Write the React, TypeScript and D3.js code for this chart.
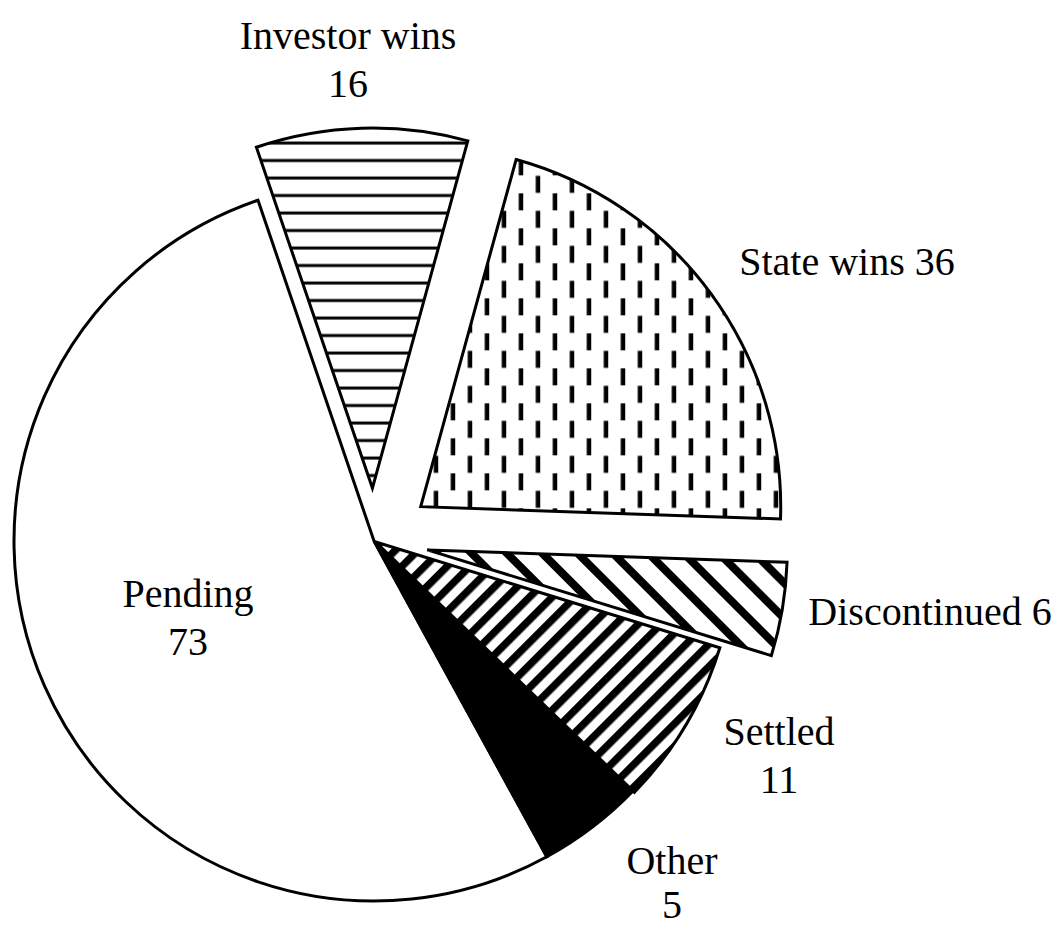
import * as d3 from "d3";

// data
const categories = ["Investor wins", "State wins", "Discontinued", "Settled", "Other", "Pending"];
const counts = [16, 36, 6, 11, 5, 73];
// share of the circle each slice occupies in the drawing (%)
const drawnShare = [9.5, 21.3, 4.2, 7.5, 4.8, 52.8];

const W = 1058,
  H = 927;
const cx = 374,
  cy = 541,
  R = 360;
const startDeg = -18.8;

// look of each slice: pattern fill + how far it is pulled out
const sliceStyle: Record<string, { fill: string; pull: number }> = {
  "Investor wins": { fill: "url(#hLines)", pull: 53 },
  "State wins": { fill: "url(#vDash)", pull: 58 },
  Discontinued: { fill: "url(#dnDiag)", pull: 54 },
  Settled: { fill: "url(#upDiag)", pull: 2 },
  Other: { fill: "#000", pull: 0 },
  Pending: { fill: "#fff", pull: 0 },
};

// label anchor relative to the pie centre; twoLines puts the count underneath
const labelLayout: Record<string, { dx: number; dy: number; twoLines: boolean; gap?: number }> = {
  "Investor wins": { dx: -26, dy: -492, twoLines: true },
  "State wins": { dx: 473, dy: -266, twoLines: false },
  Discontinued: { dx: 556, dy: 84, twoLines: false },
  Settled: { dx: 405, dy: 204, twoLines: true },
  Other: { dx: 298, dy: 333, twoLines: true, gap: 44 },
  Pending: { dx: -186, dy: 66, twoLines: true },
};

interface Slice {
  name: string;
  count: number;
  share: number;
}

const slices: Slice[] = categories.map((name, i) => ({
  name,
  count: counts[i],
  share: drawnShare[i],
}));

export default function App() {
  const rad = (d: number) => (d * Math.PI) / 180;

  const pie = d3
    .pie<Slice>()
    .sort(null)
    .value((d) => d.share)
    .startAngle(rad(startDeg))
    .endAngle(rad(startDeg + 360));

  const arc = d3.arc<d3.PieArcDatum<Slice>>().innerRadius(0).outerRadius(R);

  const arcs = pie(slices);
  // Excel paints later slices on top; draw the big one first
  const drawOrder = [...arcs].reverse();

  const font = "'Liberation Serif', 'Times New Roman', serif";

  return (
    <svg
      width={W}
      height={H}
      style={{ position: "absolute", left: 0, top: 0, background: "#fff" }}
    >
      <defs>
        <pattern id="hLines" patternUnits="userSpaceOnUse" width={10} height={17.5} y={0}>
          <rect width={10} height={17.5} fill="#fff" />
          <rect y={3.5} width={10} height={3} fill="#000" />
        </pattern>
        <pattern id="vDash" patternUnits="userSpaceOnUse" width={34} height={35} x={23.5} y={1.7}>
          <rect width={34} height={35} fill="#fff" />
          <rect x={6.5} y={0} width={4.5} height={17} fill="#000" />
          <rect x={23.5} y={17.5} width={4.5} height={17} fill="#000" />
        </pattern>
        <pattern
          id="upDiag"
          patternUnits="userSpaceOnUse"
          width={16}
          height={16}
          patternTransform="rotate(45)"
        >
          <rect width={16} height={16} fill="#fff" />
          <rect x={0} width={7.5} height={16} fill="#000" />
        </pattern>
        <pattern
          id="dnDiag"
          patternUnits="userSpaceOnUse"
          width={25}
          height={25}
          patternTransform="rotate(-45)"
        >
          <rect width={25} height={25} fill="#fff" />
          <rect x={0} width={8} height={25} fill="#000" />
        </pattern>
      </defs>

      <g transform={`translate(${cx},${cy})`}>
        {drawOrder.map((a) => {
          const st = sliceStyle[a.data.name];
          const mid = (a.startAngle + a.endAngle) / 2;
          const ox = Math.sin(mid) * st.pull;
          const oy = -Math.cos(mid) * st.pull;
          return (
            <path
              key={a.data.name}
              d={arc(a) ?? ""}
              transform={`translate(${ox},${oy})`}
              fill={st.fill}
              stroke="#000"
              strokeWidth={3}
              strokeLinejoin="miter"
            />
          );
        })}

        {arcs.map((a) => {
          const l = labelLayout[a.data.name];
          const gap = l.gap ?? 48;
          return (
            <text
              key={"lbl-" + a.data.name}
              x={l.dx}
              y={l.dy}
              textAnchor="middle"
              fontFamily={font}
              fontSize={40}
              fill="#000"
            >
              {l.twoLines ? (
                <>
                  <tspan x={l.dx}>{a.data.name}</tspan>
                  <tspan x={l.dx} dy={gap}>
                    {a.data.count}
                  </tspan>
                </>
              ) : (
                `${a.data.name} ${a.data.count}`
              )}
            </text>
          );
        })}
      </g>
    </svg>
  );
}
